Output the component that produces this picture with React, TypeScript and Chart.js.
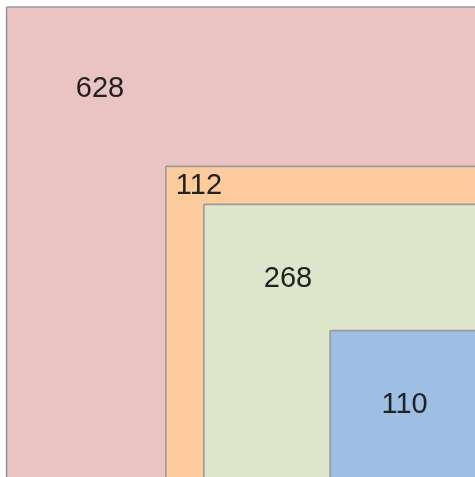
import React, { useEffect, useRef } from "react";
import { Chart, registerables } from "chart.js";

Chart.register(...registerables);

// ---- data ----
const LEVELS = ["Outer", "Ring", "Inner", "Core"];
const VALUES = [628, 112, 268, 110];
const LABELS = ["628", "112", "268", "110"];

// ---- styles / layout ----
const COLORS = ["#EAC3C3", "#FDCB9C", "#DDE6CB", "#9DBFE4"];
const BORDER = "#9a9a9a";
const W = 475;
const H = 477;
const PX_PER_UNIT = 14.1; // pixels per sqrt-value unit
const CORNER_X = 478; // shared bottom-right corner (pixels)
const CORNER_Y = 478.5;
const LABEL_OFFSETS: [number, number][] = [
  [93.5, 81.8],
  [33.1, 19.8],
  [84.1, 74.3],
  [74.4, 74.1],
];

export default function App() {
  const ref = useRef<HTMLCanvasElement | null>(null);

  useEffect(() => {
    if (!ref.current) return;
    const cum: number[] = VALUES.map((_, i) =>
      VALUES.slice(i).reduce((a, b) => a + b, 0)
    );
    const sides = cum.map((c) => Math.sqrt(c));
    const S = sides[0];

    const xRange = W / PX_PER_UNIT;
    const xMax = S - (CORNER_X - W) / PX_PER_UNIT;
    const xMin = xMax - xRange;
    const yRange = H / PX_PER_UNIT;
    const yMin = -(H - CORNER_Y) / PX_PER_UNIT;
    const yMax = yMin + yRange;

    const datasets = LEVELS.map((name, i) => {
      const s = sides[i];
      const x0 = S - s;
      const x1 = S;
      const y0 = 0;
      const y1 = s;
      return {
        label: name,
        type: "scatter" as const,
        showLine: true,
        data: [
          { x: x0, y: y1 },
          { x: x1, y: y1 },
          { x: x1, y: y0 },
          { x: x0, y: y0 },
          { x: x0, y: y1 },
        ],
        borderColor: BORDER,
        borderWidth: 1.6,
        backgroundColor: COLORS[i],
        fill: "shape" as any,
        pointRadius: 0,
        pointHoverRadius: 0,
        tension: 0,
        order: LEVELS.length - i,
      };
    });

    const labelPlugin = {
      id: "nestedLabels",
      afterDatasetsDraw(chart: any) {
        const { ctx, scales } = chart;
        ctx.save();
        ctx.font = '29px "Liberation Sans", Arial, Helvetica, sans-serif';
        ctx.fillStyle = "#222222";
        ctx.textAlign = "center";
        ctx.textBaseline = "middle";
        LABELS.forEach((t, i) => {
          const s = sides[i];
          const px = scales.x.getPixelForValue(S - s);
          const py = scales.y.getPixelForValue(s);
          ctx.fillText(t, px + LABEL_OFFSETS[i][0], py + LABEL_OFFSETS[i][1]);
        });
        ctx.restore();
      },
    };

    const chart = new Chart(ref.current, {
      type: "scatter",
      data: { datasets: datasets as any },
      options: {
        responsive: false,
        animation: false,
        devicePixelRatio: 1,
        layout: { padding: 0 },
        events: [],
        plugins: {
          legend: { display: false },
          tooltip: { enabled: false },
          filler: { propagate: false },
        },
        scales: {
          x: { type: "linear", min: xMin, max: xMax, display: false },
          y: { type: "linear", min: yMin, max: yMax, display: false },
        },
      },
      plugins: [labelPlugin],
    });
    return () => chart.destroy();
  }, []);

  return (
    <div
      style={{
        position: "absolute",
        left: 0,
        top: 0,
        width: W,
        height: H,
        background: "#ffffff",
      }}
    >
      <canvas ref={ref} width={W} height={H} style={{ width: W, height: H }} />
    </div>
  );
}
